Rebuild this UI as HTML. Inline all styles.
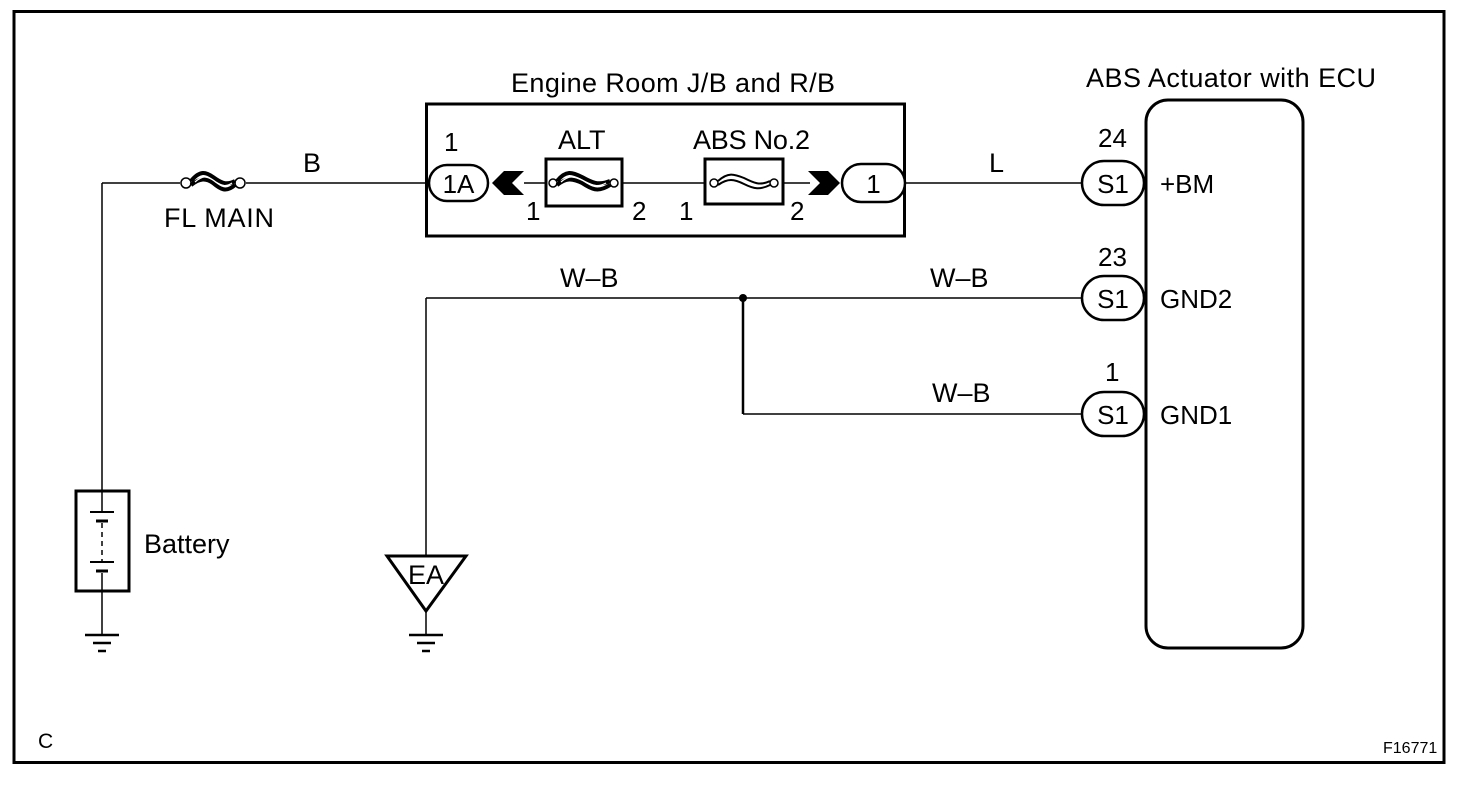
<!DOCTYPE html>
<html><head><meta charset="utf-8"><style>
html,body{margin:0;padding:0;background:#fff;}
svg{display:block;}
text{font-family:"Liberation Sans",Arial,sans-serif;fill:#000;}
</style></head><body>
<svg width="1472" height="788" viewBox="0 0 1472 788" xmlns="http://www.w3.org/2000/svg">
<rect x="14" y="11.5" width="1430" height="751" fill="none" stroke="#000" stroke-width="3"/>

<g stroke="#000" stroke-width="1.5" fill="none">
<line x1="102" y1="183" x2="102" y2="490"/>
<line x1="102" y1="183" x2="180" y2="183"/>
<line x1="246" y1="183" x2="429" y2="183"/>
<line x1="524" y1="183" x2="545" y2="183"/>
<line x1="622" y1="183" x2="705" y2="183"/>
<line x1="783" y1="183" x2="810" y2="183"/>
<line x1="905" y1="183" x2="1082" y2="183"/>
<line x1="102" y1="592" x2="102" y2="634"/>
<line x1="426" y1="298" x2="1082" y2="298"/>
<line x1="426" y1="298" x2="426" y2="555"/>
<line x1="743" y1="298" x2="743" y2="414" stroke-width="2.5"/>
<line x1="743" y1="414" x2="1082" y2="414"/>
<line x1="426" y1="612" x2="426" y2="634"/>
</g>
<circle cx="743" cy="298" r="4" fill="#000"/>

<g stroke="#000" fill="none">
<circle cx="186" cy="183" r="5" stroke-width="1.5" fill="#fff"/>
<circle cx="240" cy="183" r="5" stroke-width="1.5" fill="#fff"/>
<path d="M191 181 C200 170,206 172,213 177 C220 182,226 186,235 181" stroke-width="4"/>
<path d="M191 185 C200 178,206 178,213 183 C220 189,226 193,235 185" stroke-width="4"/>
<path d="M195 182 C203 175,207 176,213 180 C219 185,225 188,232 183" stroke="#fff" stroke-width="1.2"/>
</g>
<text x="164" y="227" font-size="27" textLength="110">FL MAIN</text>
<text x="303" y="172" font-size="27">B</text>

<rect x="426.5" y="104" width="478" height="132" fill="none" stroke="#000" stroke-width="3"/>
<text x="511" y="92" font-size="27" textLength="324">Engine Room J/B and R/B</text>
<rect x="429" y="165" width="59" height="36" rx="18" fill="#fff" stroke="#000" stroke-width="2.5"/>
<text x="458.5" y="193" font-size="26" text-anchor="middle">1A</text>
<text x="444" y="151" font-size="26">1</text>
<polygon points="524,171 512,183 524,195 504,195 492,183 504,171" fill="#000"/>
<text x="526" y="220" font-size="26">1</text>

<rect x="546" y="159" width="76" height="47" fill="none" stroke="#000" stroke-width="3"/>
<text x="558" y="149" font-size="27">ALT</text>
<g stroke="#000" fill="none">
<circle cx="553" cy="183" r="4" stroke-width="1.5" fill="#fff"/>
<circle cx="614" cy="183" r="4" stroke-width="1.5" fill="#fff"/>
<path d="M557 181 C566 170,572 172,582 177 C591 182,598 186,610 181" stroke-width="4"/>
<path d="M557 185 C566 178,572 178,582 183 C591 189,598 193,610 185" stroke-width="4"/>
<path d="M561 182 C569 175,574 176,582 180 C590 185,597 188,606 183" stroke="#fff" stroke-width="1.2"/>
</g>
<text x="632" y="220" font-size="26">2</text>
<text x="679" y="220" font-size="26">1</text>

<rect x="705" y="159" width="78" height="45" fill="none" stroke="#000" stroke-width="3"/>
<text x="693" y="149" font-size="27" textLength="117">ABS No.2</text>
<g stroke="#000" fill="none">
<circle cx="714" cy="183" r="4" stroke-width="1.5" fill="#fff"/>
<circle cx="774" cy="183" r="4" stroke-width="1.5" fill="#fff"/>
<path d="M718 181 C728 172,734 174,744 178 C754 183,760 186,770 181" stroke-width="2"/>
<path d="M718 185 C728 178,734 179,744 184 C754 189,760 190,770 185" stroke-width="2"/>
</g>
<text x="790" y="220" font-size="26">2</text>
<polygon points="808,171 828,171 840,183 828,195 808,195 820,183" fill="#000"/>
<rect x="842" y="164" width="63" height="38" rx="19" fill="#fff" stroke="#000" stroke-width="2.5"/>
<text x="873.5" y="193" font-size="26" text-anchor="middle">1</text>
<text x="989" y="172" font-size="27">L</text>

<text x="560" y="287" font-size="27">W–B</text>
<text x="930" y="287" font-size="27">W–B</text>
<text x="932" y="402" font-size="27">W–B</text>

<text x="1086" y="87" font-size="27" textLength="290">ABS Actuator with ECU</text>
<rect x="1146" y="100" width="157" height="548" rx="22" fill="none" stroke="#000" stroke-width="3"/>
<g font-size="26">
<rect x="1082" y="161" width="62" height="44" rx="22" fill="#fff" stroke="#000" stroke-width="2.5"/>
<text x="1113" y="193" text-anchor="middle">S1</text>
<text x="1098" y="147">24</text>
<text x="1160" y="193">+BM</text>
<rect x="1082" y="276" width="62" height="44" rx="22" fill="#fff" stroke="#000" stroke-width="2.5"/>
<text x="1113" y="308" text-anchor="middle">S1</text>
<text x="1098" y="266">23</text>
<text x="1160" y="308">GND2</text>
<rect x="1082" y="392" width="62" height="44" rx="22" fill="#fff" stroke="#000" stroke-width="2.5"/>
<text x="1113" y="424" text-anchor="middle">S1</text>
<text x="1105" y="381">1</text>
<text x="1160" y="424">GND1</text>
</g>

<rect x="76" y="491" width="53" height="100" fill="none" stroke="#000" stroke-width="3"/>
<g stroke="#000">
<line x1="102" y1="491" x2="102" y2="512" stroke-width="1.5"/>
<line x1="90" y1="512" x2="114" y2="512" stroke-width="2"/>
<line x1="96" y1="521" x2="108" y2="521" stroke-width="3"/>
<line x1="102" y1="523" x2="102" y2="562" stroke-width="1.5" stroke-dasharray="5,4"/>
<line x1="90" y1="562" x2="114" y2="562" stroke-width="2"/>
<line x1="96" y1="571" x2="108" y2="571" stroke-width="3"/>
<line x1="102" y1="573" x2="102" y2="591" stroke-width="1.5"/>
</g>
<text x="144" y="553" font-size="27">Battery</text>

<g stroke="#000" stroke-width="2.5">
<line x1="85" y1="635" x2="119" y2="635"/>
<line x1="93" y1="643" x2="111" y2="643"/>
<line x1="98" y1="651" x2="106" y2="651"/>
<line x1="409" y1="635" x2="443" y2="635"/>
<line x1="417" y1="643" x2="435" y2="643"/>
<line x1="422" y1="651" x2="430" y2="651"/>
</g>

<polygon points="387,556 466,556 426,611" fill="#fff" stroke="#000" stroke-width="3"/>
<text x="426" y="584" font-size="27" text-anchor="middle">EA</text>

<text x="38" y="748" font-size="21">C</text>
<text x="1383" y="753" font-size="16">F16771</text>
</svg>
</body></html>
